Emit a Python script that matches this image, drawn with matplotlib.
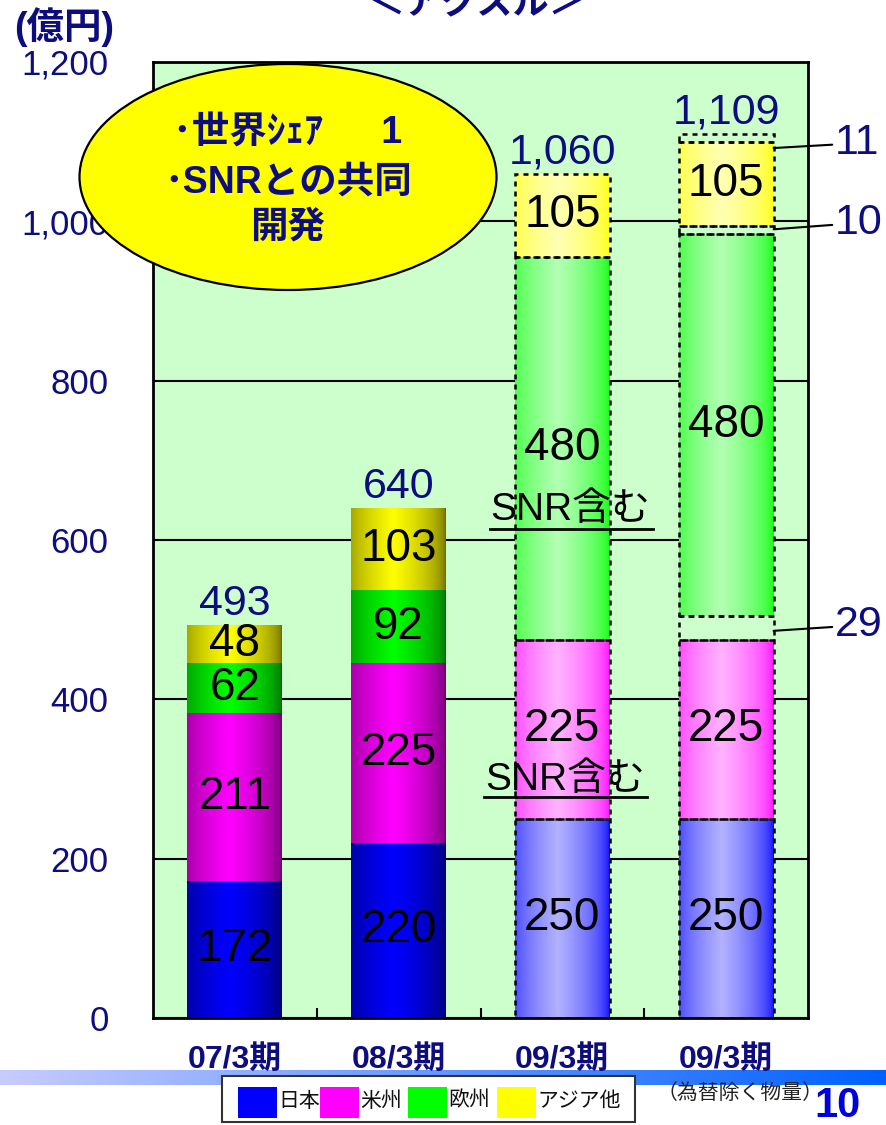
import matplotlib.pyplot as plt
import matplotlib.colors as mcolors
import numpy as np
from matplotlib.patches import Ellipse, Rectangle
from matplotlib.transforms import Affine2D

plt.rcParams['font.family'] = ['Liberation Sans', 'Noto Sans CJK JP']

# data
categories = ['07/3期', '08/3期', '09/3期', '09/3期']
japan = [172, 220, 250, 250]
america = [211, 225, 225, 225]
europe = [62, 92, 480, 480]
asia = [48, 103, 105, 105]
gap_mid = [0, 0, 0, 29]   # unlabeled pieces of the last bar
gap_hi = [0, 0, 0, 10]
gap_top = [0, 0, 0, 11]
totals = ['493', '640', '1,060', '1,109']
series_names = ['日本', '米州', '欧州', 'アジア他']
series_colors = ['#0000ff', '#ff00ff', '#00ff00', '#ffff00']
solid = [True, True, False, False]
yticks = [0, 200, 400, 600, 800, 1000, 1200]

navy = '#0d0d80'
W, H = 886, 1125
fig = plt.figure(figsize=(W / 100, H / 100), dpi=100)
# pixel coords from the top-left corner
px = Affine2D().scale(1 / W, -1 / H).translate(0, 1) + fig.transFigure


def gradient(color, dark_edges):
    u = np.linspace(0, 1, 200)
    w = np.clip(1 - np.abs(u - 0.45) / 0.55, 0, 1) ** 0.5
    c = np.array(mcolors.to_rgb(color))
    if dark_edges:
        edge, mid = c * 0.4, c
    else:
        edge, mid = c, c + (1 - c) * 0.7
    rgb = edge[None, :] * (1 - w[:, None]) + mid[None, :] * w[:, None]
    return rgb[None, :, :]


# blue strip behind the category labels
band = fig.add_axes([0, 1 - 1085 / H, 1, 15 / H], zorder=-1)
t = np.linspace(0, 1, 300)[:, None]
strip = (1 - t) * np.array([0.78, 0.80, 1.0]) + t * np.array([0.0, 0.38, 1.0])
band.imshow(strip[None, :, :], aspect='auto', extent=(0, 1, 0, 1))
band.axis('off')

ax = fig.add_axes([153 / W, 1 - 1018 / H, 655 / W, 956 / H])
ax.set_facecolor('#ccffcc')

x = np.arange(len(categories))
width = 0.58
layers = [(japan, 0), (america, 1), (gap_mid, None), (europe, 2),
          (gap_hi, None), (asia, 3), (gap_top, None)]
bottom = np.zeros(len(categories))
for vals, ci in layers:
    vals = np.array(vals)
    bars = ax.bar(x, vals, width, bottom=bottom, facecolor='none',
                  edgecolor='none', zorder=3)
    for i, b in enumerate(bars):
        if vals[i] == 0:
            continue
        if ci is not None:
            im = ax.imshow(gradient(series_colors[ci], solid[i]),
                           extent=(x[i] - width / 2, x[i] + width / 2,
                                   bottom[i], bottom[i] + vals[i]),
                           aspect='auto', interpolation='bilinear', zorder=2)
            im.set_clip_path(b)
            ax.text(x[i], bottom[i] + vals[i] / 2, str(vals[i]), ha='center',
                    va='center', fontsize=33, color='black', zorder=6)
        if not solid[i]:
            b.set_edgecolor('black')
            b.set_linestyle((0, (2, 2)))
            b.set_linewidth(1.8)
    bottom = bottom + vals

for i in range(len(categories)):
    ax.annotate(totals[i], (x[i], bottom[i]), xytext=(0, 1),
                textcoords='offset points', ha='center', va='bottom',
                fontsize=31, color=navy, zorder=6)

# side notes for the small pieces of the last bar
for lab, ya, yt in [('11', 1092, 1098), ('10', 990, 998), ('29', 486, 493)]:
    ax.annotate(lab, (x[3] + width / 2, ya), xytext=(3.665, yt),
                ha='left', va='center', fontsize=31, color=navy,
                annotation_clip=False,
                arrowprops=dict(arrowstyle='-', color='black', lw=1.5,
                                shrinkA=0, shrinkB=0))

# "SNR含む" notes
ax.text(2.05, 638, 'SNR含む', ha='center', va='center', fontsize=28, zorder=7)
ax.plot([1.558, 2.553], [614, 614], color='black', lw=2, zorder=7)
ax.text(2.016, 299, 'SNR含む', ha='center', va='center', fontsize=28, zorder=7)
ax.plot([1.52, 2.517], [277, 277], color='black', lw=2, zorder=7)

ax.set_xlim(-0.5, 3.5)
ax.set_ylim(0, 1200)
ax.set_xticks(x, categories)
ax.set_xticks([0.5, 1.5, 2.5], minor=True)
ax.tick_params(axis='x', which='major', length=0, pad=19, labelsize=23,
               labelcolor=navy)
ax.tick_params(axis='x', which='minor', direction='in', length=7, width=1.5)
for lbl in ax.get_xticklabels():
    lbl.set_fontweight('bold')
ax.set_yticks(yticks, [f'{v:,}' for v in yticks])
ax.tick_params(axis='y', length=0, pad=32, labelsize=25, labelcolor=navy)
ax.yaxis.grid(True, color='black', lw=1.5)
ax.set_axisbelow(True)
for s in ax.spines.values():
    s.set_linewidth(2)

# texts and shapes around the plot
fig.text(477, 22, '＜アクスル＞', transform=px, ha='center', va='bottom',
         fontsize=26, fontweight='bold', color=navy)
fig.text(64, 27, '(億円)', transform=px, ha='center', va='center',
         fontsize=27, fontweight='bold', color=navy)

fig.add_artist(Ellipse((288, 177), 417, 226, transform=px, facecolor='#ffff00',
                       edgecolor='black', lw=1.6, zorder=10))
for txt, yy in [('･世界ｼｪｱ　  1', 134), ('･SNRとの共同', 183), ('開発', 228)]:
    fig.text(288, yy, txt, transform=px, ha='center', va='center', fontsize=27,
             fontweight='bold', color=navy, zorder=11)

fig.add_artist(Rectangle((222, 1076), 413, 46, transform=px, facecolor='white',
                         edgecolor='#333333', lw=1.5, zorder=10))
for name, col, sx in zip(series_names, series_colors, [238, 320, 408, 497]):
    fig.add_artist(Rectangle((sx, 1087), 39, 31, transform=px, facecolor=col,
                             edgecolor='none', zorder=11))
    fig.text(sx + 40, 1101, name, transform=px, ha='left', va='center',
             fontsize=15, color='#111111', zorder=12)

fig.text(740, 1093, '（為替除く物量）', transform=px, ha='center', va='center',
         fontsize=15, color='#222222')
fig.text(838, 1106, '10', transform=px, ha='center', va='center',
         fontsize=30, fontweight='bold', color='#0000dd')

plt.savefig('out.png', dpi=100)
